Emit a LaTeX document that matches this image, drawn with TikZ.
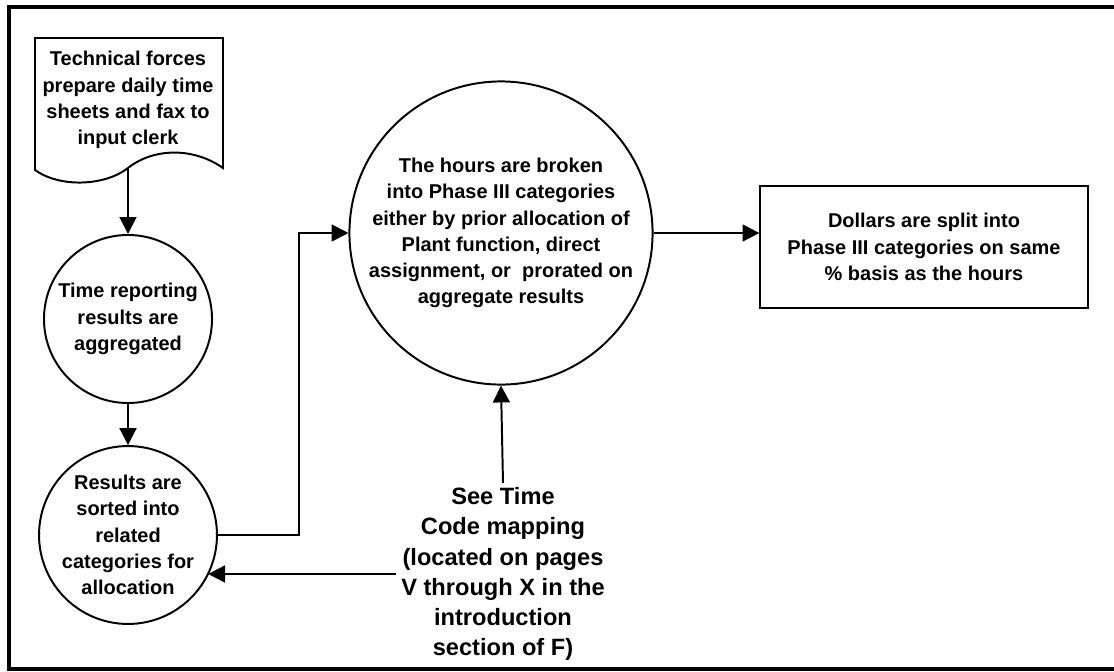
\documentclass[tikz,border=0pt]{standalone}
\usepackage{fontspec}
\setmainfont{Liberation Sans}
\usetikzlibrary{arrows.meta}

\begin{document}
\begin{tikzpicture}[x=0.025cm,y=-0.025cm,
    txt/.style={align=center,font=\bfseries\fontsize{14.2}{18.6}\selectfont},
    bubble/.style={txt,draw,circle,line width=1.4pt,inner sep=0pt},
    flow/.style={-{Triangle[length=12pt,width=12pt]},line width=1.4pt}]
  \useasboundingbox (0,0) rectangle (1114,672);
  \draw[line width=2.2pt] (1114,7) -- (9,7) -- (9,669) -- (1114,669);
  % time sheets (document shape)
  \draw[line width=1.4pt] (35,38) -- (223,38) -- (223,168)
    .. controls (190,145) and (150,150) .. (128,168)
    .. controls (105,186) and (60,188) .. (35,170) -- cycle;
  \node[txt] (sheets) at (128,100) {Technical forces\\prepare daily time\\sheets and fax to\\input clerk};
  \coordinate (wave) at (128,168);
  \node[bubble,minimum size=4.2cm] (aggr) at (128,319) {Time reporting\\results are\\aggregated};
  \node[bubble,minimum size=4.25cm] (sorted) at (128,535) {Results are\\sorted into\\related\\categories for\\allocation};
  \node[bubble,minimum size=7.15cm] (hours) at (501,233) {The hours are broken\\into Phase III categories\\either by prior allocation of\\Plant function, direct\\assignment, or\ \ prorated on\\aggregate results};
  \node[txt,draw,line width=1.4pt,minimum width=8.18cm,minimum height=3.05cm] (dollars) at (924,247) {Dollars are split into\\Phase III categories on same\\\% basis as the hours};
  \node[align=center,font=\bfseries\fontsize{16.8}{21.4}\selectfont] (note) at (503,574) {See Time\\Code mapping\\(located on pages\\V through X in the\\introduction\\section of F)};
  % connectors
  \draw[flow] (wave) -- (aggr);
  \draw[flow] (aggr) -- (sorted);
  \draw[flow] (sorted.east) -- ++(81,0) |- (hours.west);
  \draw[flow] (hours.east) -- (hours.east -| dollars.west);
  \draw[flow] (note.north) -- (hours.south);
  \draw[flow] (note.west) -- (note.west -| sorted.-27);
\end{tikzpicture}
\end{document}
